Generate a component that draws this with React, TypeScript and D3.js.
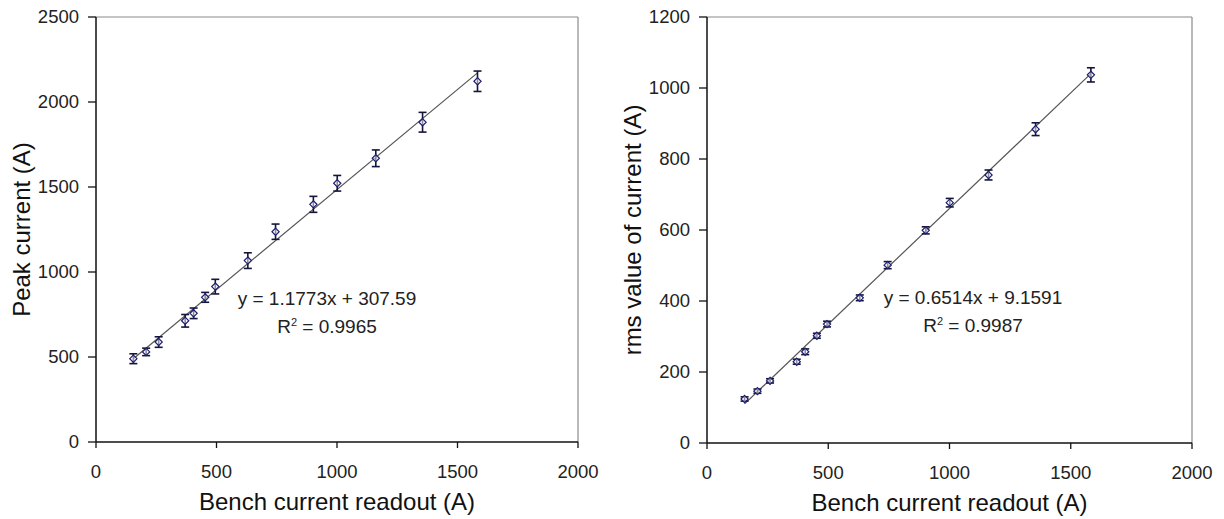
import React from "react";
import * as d3 from "d3";

const bench = [155, 208, 260, 370, 405, 453, 495, 630, 745, 902, 1001, 1161, 1355, 1583];
const peakCurrent = [490, 530, 588, 713, 757, 851, 914, 1067, 1237, 1398, 1522, 1669, 1881, 2122];
const peakErr = [29, 22, 31, 37, 31, 29, 43, 46, 45, 47, 46, 49, 58, 60];
const rmsCurrent = [124, 146, 175, 229, 257, 302, 335, 409, 501, 599, 677, 755, 884, 1037];
const rmsErr = [6, 6, 6, 7, 8, 7, 8, 8, 10, 10, 12, 14, 18, 20];

const xTicks = [0, 500, 1000, 1500, 2000];
const peakTicks = [0, 500, 1000, 1500, 2000, 2500];
const rmsTicks = [0, 200, 400, 600, 800, 1000, 1200];

const peakFit = { slope: 1.1773, intercept: 307.59, r2: "0.9965", label: "y = 1.1773x + 307.59" };
const rmsFit = { slope: 0.6514, intercept: 9.1591, r2: "0.9987", label: "y = 0.6514x + 9.1591" };

const FONT = "'Liberation Sans', Arial, sans-serif";

type PanelProps = {
  left: number; right: number; top: number; bottom: number;
  yMax: number; yTicks: number[]; ys: number[]; errs: number[];
  fit: { slope: number; intercept: number; r2: string; label: string };
  yTitle: string; yTitleX: number; eqX: number; eqY: number;
};

function Panel(p: PanelProps) {
  const x = d3.scaleLinear().domain([0, 2000]).range([p.left, p.right]);
  const y = d3.scaleLinear().domain([0, p.yMax]).range([p.bottom, p.top]);
  const xmin = d3.min(bench)!;
  const xmax = d3.max(bench)!;
  const cy = (p.top + p.bottom) / 2;
  const cx = (p.left + p.right) / 2;
  return (
    <g fontFamily={FONT}>
      <line x1={p.left} x2={p.right} y1={p.top} y2={p.top} stroke="#8a8a8a" strokeWidth={1.2} />
      <line x1={p.right} x2={p.right} y1={p.top} y2={p.bottom} stroke="#8a8a8a" strokeWidth={1.2} />
      <line
        x1={x(xmin)} y1={y(p.fit.slope * xmin + p.fit.intercept)}
        x2={x(xmax)} y2={y(p.fit.slope * xmax + p.fit.intercept)}
        stroke="#555" strokeWidth={1.2}
      />
      {bench.map((bx, i) => {
        const px = x(bx);
        const y1 = y(p.ys[i] + p.errs[i]);
        const y2 = y(p.ys[i] - p.errs[i]);
        return (
          <g key={"e" + i} stroke="#15153a" strokeWidth={1.6}>
            <line x1={px} x2={px} y1={y1} y2={y2} />
            <line x1={px - 4} x2={px + 4} y1={y1} y2={y1} />
            <line x1={px - 4} x2={px + 4} y1={y2} y2={y2} />
          </g>
        );
      })}
      {bench.map((bx, i) => {
        const px = x(bx);
        const py = y(p.ys[i]);
        const s = 3.6;
        return (
          <path key={"m" + i}
            d={`M${px},${py - s}L${px + s},${py}L${px},${py + s}L${px - s},${py}Z`}
            fill="white" fillOpacity={0.5} stroke="#1e1e70" strokeWidth={1.2} />
        );
      })}
      <line x1={p.left} x2={p.left} y1={p.top} y2={p.bottom} stroke="#111" strokeWidth={1.5} />
      <line x1={p.left} x2={p.right} y1={p.bottom} y2={p.bottom} stroke="#111" strokeWidth={1.5} />
      {p.yTicks.map((t) => (
        <g key={"yt" + t}>
          <line x1={p.left - 8} x2={p.left} y1={y(t)} y2={y(t)} stroke="#111" strokeWidth={1.3} />
          <text x={p.left - 17} y={y(t)} dy="0.35em" textAnchor="end" fontSize={18.5} fill="#222">{t}</text>
        </g>
      ))}
      {xTicks.map((t) => (
        <g key={"xt" + t}>
          <line x1={x(t)} x2={x(t)} y1={p.bottom} y2={p.bottom + 6} stroke="#111" strokeWidth={1.3} />
          <text x={x(t)} y={p.bottom + 36} textAnchor="middle" fontSize={18.5} fill="#222">{t}</text>
        </g>
      ))}
      <text x={cx} y={p.bottom + 68} textAnchor="middle" fontSize={24} fill="#111">Bench current readout (A)</text>
      <text transform={`translate(${p.yTitleX},${cy}) rotate(-90)`} textAnchor="middle" fontSize={24} fill="#111">{p.yTitle}</text>
      <text x={p.eqX} y={p.eqY} textAnchor="middle" fontSize={19} fill="#222">{p.fit.label}</text>
      <text x={p.eqX} y={p.eqY + 28} textAnchor="middle" fontSize={19} fill="#222">
        R<tspan dy={-7} fontSize={11}>2</tspan><tspan dy={7}> = {p.fit.r2}</tspan>
      </text>
    </g>
  );
}

export default function App() {
  return (
    <svg width={1224} height={519} style={{ position: "absolute", left: 0, top: 0, background: "white" }}>
      <rect width={1224} height={519} fill="white" />
      <Panel left={96} right={578} top={17} bottom={442} yMax={2500} yTicks={peakTicks}
        ys={peakCurrent} errs={peakErr} fit={peakFit} yTitle="Peak current (A)" yTitleX={30}
        eqX={327} eqY={305} />
      <Panel left={707} right={1192} top={17} bottom={443} yMax={1200} yTicks={rmsTicks}
        ys={rmsCurrent} errs={rmsErr} fit={rmsFit} yTitle="rms value of current (A)" yTitleX={641}
        eqX={973} eqY={304} />
    </svg>
  );
}
